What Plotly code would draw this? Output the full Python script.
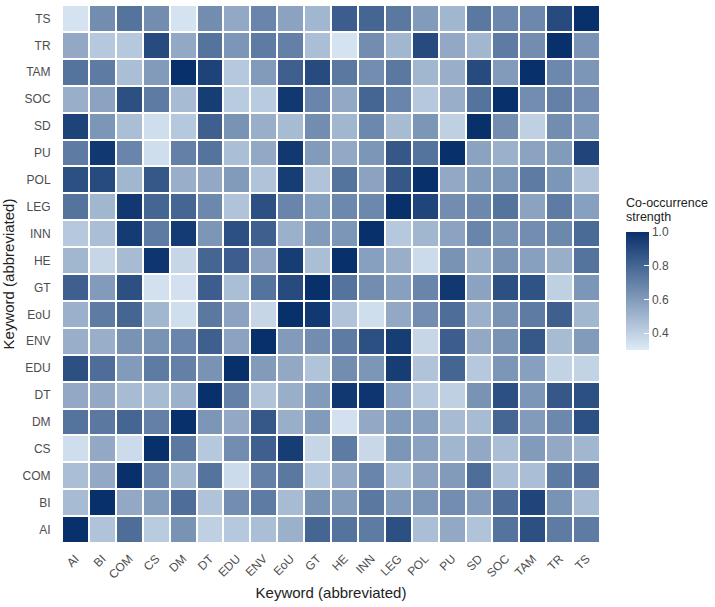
import plotly.graph_objects as go

keywords = ["AI", "BI", "COM", "CS", "DM", "DT", "EDU", "ENV", "EoU", "GT",
            "HE", "INN", "LEG", "POL", "PU", "SD", "SOC", "TAM", "TR", "TS"]

row_AI  = [1.00,0.45,0.77,0.42,0.63,0.40,0.43,0.47,0.52,0.80,0.75,0.72,0.88,0.47,0.55,0.45,0.75,0.88,0.72,0.72]
row_BI  = [0.48,1.00,0.55,0.60,0.77,0.45,0.65,0.72,0.48,0.63,0.60,0.73,0.60,0.62,0.65,0.60,0.77,0.92,0.63,0.48]
row_COM = [0.47,0.55,1.00,0.68,0.50,0.75,0.36,0.70,0.73,0.43,0.55,0.68,0.47,0.57,0.60,0.77,0.47,0.47,0.72,0.77]
row_CS  = [0.35,0.55,0.36,1.00,0.73,0.43,0.65,0.82,0.95,0.38,0.72,0.37,0.62,0.57,0.50,0.55,0.47,0.60,0.55,0.50]
row_DM  = [0.75,0.73,0.80,0.70,1.00,0.62,0.55,0.85,0.53,0.60,0.34,0.55,0.60,0.58,0.48,0.48,0.80,0.60,0.67,0.88]
row_DT  = [0.55,0.55,0.48,0.48,0.52,1.00,0.70,0.45,0.53,0.60,0.97,0.98,0.58,0.43,0.40,0.63,0.88,0.62,0.85,0.88]
row_EDU = [0.88,0.77,0.60,0.72,0.70,0.63,1.00,0.60,0.55,0.45,0.65,0.62,0.95,0.45,0.80,0.43,0.62,0.58,0.39,0.39]
row_ENV = [0.53,0.53,0.63,0.63,0.68,0.82,0.57,1.00,0.60,0.65,0.72,0.88,0.95,0.38,0.83,0.55,0.63,0.85,0.48,0.60]
row_EoU = [0.52,0.72,0.80,0.50,0.35,0.73,0.57,0.38,1.00,0.97,0.45,0.35,0.55,0.65,0.77,0.52,0.63,0.72,0.82,0.50]
row_GT  = [0.82,0.60,0.88,0.34,0.34,0.83,0.47,0.75,0.90,1.00,0.75,0.65,0.58,0.68,0.97,0.57,0.88,0.87,0.40,0.62]
row_HE  = [0.50,0.38,0.48,0.98,0.38,0.80,0.83,0.57,0.95,0.47,1.00,0.58,0.53,0.36,0.63,0.53,0.63,0.58,0.53,0.75]
row_INN = [0.43,0.47,0.96,0.72,0.96,0.62,0.88,0.82,0.52,0.60,0.62,1.00,0.43,0.50,0.57,0.68,0.63,0.65,0.67,0.78]
row_LEG = [0.75,0.50,0.97,0.80,0.80,0.67,0.45,0.88,0.68,0.58,0.67,0.67,1.00,0.92,0.65,0.67,0.75,0.57,0.72,0.58]
row_POL = [0.88,0.90,0.50,0.85,0.53,0.55,0.60,0.45,0.95,0.45,0.75,0.57,0.85,1.00,0.55,0.60,0.62,0.72,0.62,0.45]
row_PU  = [0.72,0.97,0.68,0.35,0.70,0.75,0.47,0.55,0.97,0.60,0.55,0.62,0.85,0.75,1.00,0.57,0.52,0.57,0.60,0.92]
row_SD  = [0.93,0.62,0.47,0.35,0.43,0.82,0.63,0.53,0.48,0.65,0.50,0.67,0.48,0.62,0.40,1.00,0.65,0.40,0.65,0.60]
row_SOC = [0.53,0.57,0.88,0.72,0.48,0.95,0.42,0.42,0.97,0.68,0.55,0.80,0.68,0.43,0.53,0.75,1.00,0.65,0.70,0.65]
row_TAM = [0.75,0.72,0.47,0.60,1.00,0.93,0.43,0.60,0.82,0.90,0.73,0.65,0.73,0.50,0.53,0.90,0.60,1.00,0.67,0.62]
row_TR  = [0.55,0.43,0.43,0.90,0.55,0.75,0.62,0.72,0.70,0.47,0.33,0.65,0.50,0.90,0.55,0.50,0.72,0.65,1.00,0.63]
row_TS  = [0.33,0.65,0.75,0.65,0.33,0.65,0.55,0.68,0.57,0.50,0.83,0.80,0.73,0.60,0.50,0.73,0.67,0.67,0.90,1.00]

z = [row_AI, row_BI, row_COM, row_CS, row_DM, row_DT, row_EDU, row_ENV, row_EoU, row_GT,
     row_HE, row_INN, row_LEG, row_POL, row_PU, row_SD, row_SOC, row_TAM, row_TR, row_TS]

legend_title_lines = ["Co-occurrence", "strength"]

W, H = 715, 607
ML, MR, MT, MB = 62, 115, 5, 64
PW, PH = W - ML - MR, H - MT - MB
font = "Liberation Sans, Arial, sans-serif"

fig = go.Figure(go.Heatmap(
    z=z, x=keywords, y=keywords,
    zmin=0.30, zmax=1.0,
    colorscale=[[0, "#deebf7"], [1, "#08306b"]],
    xgap=2, ygap=2,
    colorbar=dict(
        xref="paper", yref="paper",
        x=(626 - ML) / PW, xanchor="left",
        y=(H - MB - 232) / PH, yanchor="top",
        lenmode="pixels", len=118, ypad=0, xpad=0,
        thickness=23, outlinewidth=0,
        tickvals=[0.4, 0.6, 0.8, 1.0], ticktext=["0.4", "0.6", "0.8", "1.0"],
        ticks="inside", ticklen=5, tickcolor="white",
        tickfont=dict(size=12, color="#4d4d4d", family=font),
    ),
))

for i, line in enumerate(legend_title_lines):
    fig.add_annotation(
        text=line,
        xref="paper", yref="paper",
        x=(625 - ML) / PW, y=(H - MB - (195 + 14 * i)) / PH,
        xanchor="left", yanchor="top", align="left",
        showarrow=False, borderpad=0,
        font=dict(size=12.5, color="#222", family=font),
    )

fig.update_layout(
    width=W, height=H,
    margin=dict(l=ML, r=MR, t=MT, b=MB),
    paper_bgcolor="white", plot_bgcolor="white",
    font=dict(family=font),
    xaxis=dict(
        tickangle=-45, tickfont=dict(size=12, color="#4d4d4d"),
        ticks="outside", ticklen=3, tickcolor="rgba(0,0,0,0)",
        title=dict(text="Keyword (abbreviated)", font=dict(size=15, color="#222"), standoff=6),
        showgrid=False, zeroline=False, automargin=False,
    ),
    yaxis=dict(
        tickfont=dict(size=12, color="#4d4d4d"),
        ticks="outside", ticklen=8, tickcolor="rgba(0,0,0,0)",
        title=dict(text="Keyword (abbreviated)", font=dict(size=15, color="#222"), standoff=6),
        showgrid=False, zeroline=False, automargin=False,
    ),
)

fig.write_html("out.html")
